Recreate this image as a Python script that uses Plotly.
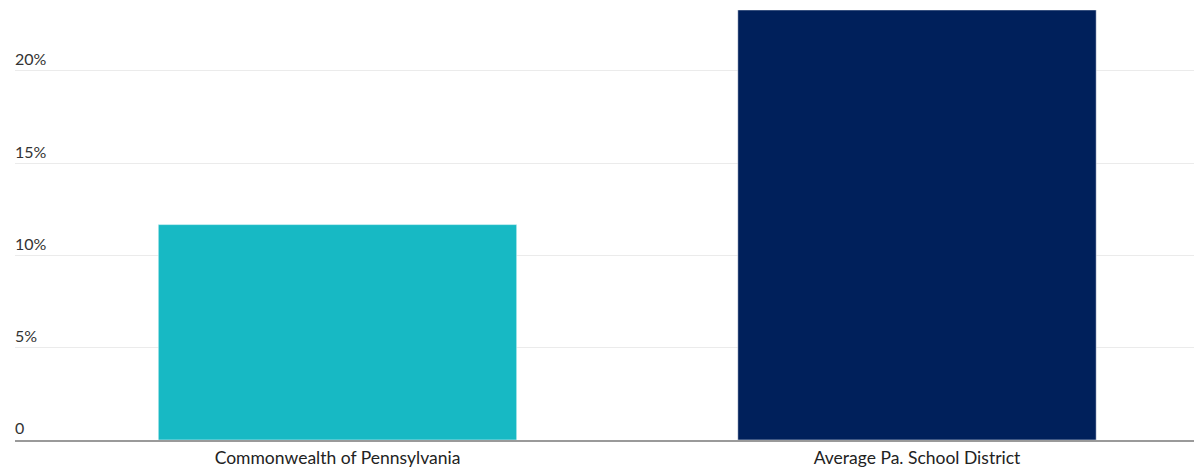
import plotly.graph_objects as go

categories = ["Commonwealth of Pennsylvania", "Average Pa. School District"]
values = [11.67, 23.3]
colors = ["#17B9C4", "#00205B"]
tick_vals = [0, 5, 10, 15, 20]
tick_text = ["0", "5%", "10%", "15%", "20%"]

fig = go.Figure()
fig.add_trace(go.Bar(
    x=[0, 1], y=values, width=0.6185,
    marker=dict(color=colors, line=dict(color="rgba(255,255,255,0.5)", width=1)),
    showlegend=False, hoverinfo="skip",
))

fig.update_layout(
    width=1194, height=467,
    margin=dict(l=15, r=0, t=2, b=27),
    paper_bgcolor="white", plot_bgcolor="white",
    font=dict(family="Lato", size=15, color="#333333"),
    xaxis=dict(
        range=[-0.5565, 1.478],
        tickmode="array", tickvals=[0, 1], ticktext=categories,
        showgrid=False, zeroline=False,
        showline=True, linecolor="#9a9a9a", linewidth=2,
        ticks="", ticklabelstandoff=1,
        tickfont=dict(size=17.5, color="#222222"),
    ),
    yaxis=dict(
        range=[0, 23.73],
        tickmode="array", tickvals=tick_vals, ticktext=tick_text,
        ticklabelposition="inside top", ticklabelstandoff=-3,
        showgrid=True, gridcolor="#ebebeb", gridwidth=1,
        zeroline=False, showline=False, ticks="",
        tickfont=dict(size=16, color="#333333"),
    ),
)

fig.write_html("out.html")
